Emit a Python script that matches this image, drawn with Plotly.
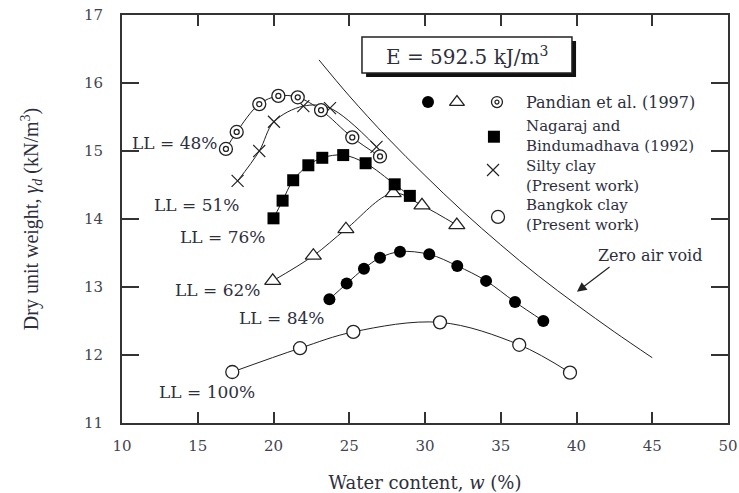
import plotly.graph_objects as go

# Compaction curves: water content w (%) vs dry unit weight (kN/m^3)
w_ll48 = [16.86, 17.57, 19.06, 20.32, 21.60, 23.14, 25.20, 27.03]
g_ll48 = [15.03, 15.28, 15.69, 15.81, 15.79, 15.60, 15.20, 14.92]

w_ll51 = [17.63, 19.06, 20.03, 21.97, 23.73, 26.80]
g_ll51 = [14.56, 15.00, 15.43, 15.66, 15.63, 15.06]

w_ll76 = [20.00, 20.60, 21.30, 22.30, 23.22, 24.60, 26.08, 28.00, 29.00]
g_ll76 = [14.01, 14.27, 14.57, 14.79, 14.90, 14.94, 14.82, 14.51, 14.34]

w_ll62 = [19.95, 22.63, 24.78, 27.90, 29.80, 32.10]
g_ll62 = [13.09, 13.46, 13.85, 14.38, 14.20, 13.91]

w_ll84 = [23.69, 24.83, 25.97, 27.03, 28.35, 30.28, 32.13, 34.03, 35.94, 37.81]
g_ll84 = [12.82, 13.05, 13.27, 13.43, 13.52, 13.48, 13.31, 13.09, 12.78, 12.50]

w_ll100 = [17.28, 21.75, 25.27, 30.99, 36.22, 39.57]
g_ll100 = [11.75, 12.10, 12.34, 12.48, 12.15, 11.74]

# Zero air void line
w_zav = [23.0, 25.0, 27.5, 30.0, 32.5, 35.0, 37.5, 40.0, 42.5, 45.0]
g_zav = [16.34, 15.81, 15.20, 14.64, 14.11, 13.62, 13.16, 12.74, 12.34, 11.96]

x_ticks = [10, 15, 20, 25, 30, 35, 40, 45, 50]
y_ticks = [11, 12, 13, 14, 15, 16, 17]

LINE = "#222222"
TXT = "#2e2f3e"
SERIF = "DejaVu Serif"

fig = go.Figure()

def curve(w, g, marker):
    fig.add_trace(go.Scatter(
        x=w, y=g, mode="lines+markers",
        line=dict(color=LINE, width=1, shape="spline", smoothing=1.0),
        marker=marker, showlegend=False, hoverinfo="skip"))

white_mk = dict(color="white", line=dict(color=LINE, width=1.3))

fig.add_trace(go.Scatter(x=w_zav, y=g_zav, mode="lines",
                         line=dict(color=LINE, width=1, shape="spline"),
                         showlegend=False, hoverinfo="skip"))

curve(w_ll51, g_ll51, dict(symbol="x-thin-open", size=12, color=LINE, line=dict(color=LINE, width=1.2)))
curve(w_ll48, g_ll48, dict(symbol="circle", size=13, **white_mk))
fig.add_trace(go.Scatter(x=w_ll48, y=g_ll48, mode="markers",
                         marker=dict(symbol="circle-open", size=5, color=LINE, line=dict(width=1.3)),
                         showlegend=False, hoverinfo="skip"))
curve(w_ll62, g_ll62, dict(symbol="triangle-up", size=14, **white_mk))
curve(w_ll76, g_ll76, dict(symbol="square", size=12, color="black"))
curve(w_ll84, g_ll84, dict(symbol="circle", size=12, color="black"))
curve(w_ll100, g_ll100, dict(symbol="circle", size=13, **white_mk))

# Legend keys
def key(x, y, marker):
    fig.add_trace(go.Scatter(x=[x], y=[y], mode="markers", marker=marker,
                             showlegend=False, hoverinfo="skip"))

key(30.2, 15.72, dict(symbol="circle", size=12, color="black"))
key(32.11, 15.72, dict(symbol="triangle-up", size=13, **white_mk))
key(34.75, 15.72, dict(symbol="circle", size=11, **white_mk))
key(34.75, 15.72, dict(symbol="circle-open", size=4, color=LINE, line=dict(width=1.2)))
key(34.55, 15.21, dict(symbol="square", size=12, color="black"))
key(34.49, 14.72, dict(symbol="x-thin-open", size=12, color=LINE, line=dict(color=LINE, width=1.2)))
key(34.82, 14.03, dict(symbol="circle", size=13, **white_mk))

ann = []
def label(x, y, text, size=16, anchor="center"):
    ann.append(dict(x=x, y=y, xref="x", yref="y", text=text, showarrow=False,
                    xanchor=anchor, yanchor="middle", align=anchor if anchor != "center" else "center",
                    font=dict(family=SERIF, size=size, color=TXT)))

# Liquid-limit labels
label(13.47, 15.12, "LL = 48%", 17)
label(14.92, 14.21, "LL = 51%", 17)
label(16.63, 13.74, "LL = 76%", 17)
label(16.30, 12.96, "LL = 62%", 17)
label(20.50, 12.54, "LL = 84%", 17)
label(15.58, 11.46, "LL = 100%", 17)

# Legend texts
label(36.53, 15.72, "Pandian et al. (1997)", 16, "left")
label(36.53, 15.22, "Nagaraj and<br>Bindumadhava (1992)", 15, "left")
label(36.53, 14.63, "Silty clay<br>(Present work)", 15, "left")
label(36.53, 14.06, "Bangkok clay<br>(Present work)", 15, "left")

label(44.85, 13.46, "Zero air void", 16)
ann.append(dict(x=40.03, y=12.93, ax=42.28, ay=13.31, xref="x", yref="y",
                axref="x", ayref="y", text="", showarrow=True,
                arrowhead=2, arrowsize=1.6, arrowwidth=1.2, arrowcolor=LINE))

label(32.77, 16.40, "E = 592.5 kJ/m<sup>3</sup>", 20)

shapes = [
    dict(type="rect", xref="x", yref="y", x0=26.11, x1=39.97, y0=16.088, y1=16.618,
         fillcolor="#111111", line=dict(width=0), layer="below"),
    dict(type="rect", xref="x", yref="y", x0=25.84, x1=39.70, y0=16.147, y1=16.676,
         fillcolor="white", line=dict(color=LINE, width=1.5), layer="below"),
]

axis_common = dict(showline=True, linewidth=2, linecolor="#333333", mirror="ticks",
                   ticks="inside", tickwidth=2, tickcolor="#333333",
                   showgrid=False, zeroline=False, automargin=False,
                   tickfont=dict(family=SERIF, size=15, color="#444450"))

fig.update_layout(
    width=739, height=493,
    margin=dict(l=122, r=11, t=15, b=70),
    paper_bgcolor="white", plot_bgcolor="white",
    xaxis=dict(range=[10, 50], tickvals=x_ticks, ticklen=11, ticklabelstandoff=8,
               title=dict(text="Water content, <i>w</i> (%)", standoff=24,
                          font=dict(family=SERIF, size=18, color=TXT)),
               **axis_common),
    yaxis=dict(range=[11, 17], tickvals=y_ticks, ticklen=17, ticklabelstandoff=14,
               title=dict(text="Dry unit weight, <i>γ<sub>d</sub></i> (kN/m<sup>3</sup>)", standoff=40,
                          font=dict(family="Liberation Serif", size=20, color=TXT)),
               **axis_common),
    annotations=ann, shapes=shapes,
)

fig.write_html("out.html")
